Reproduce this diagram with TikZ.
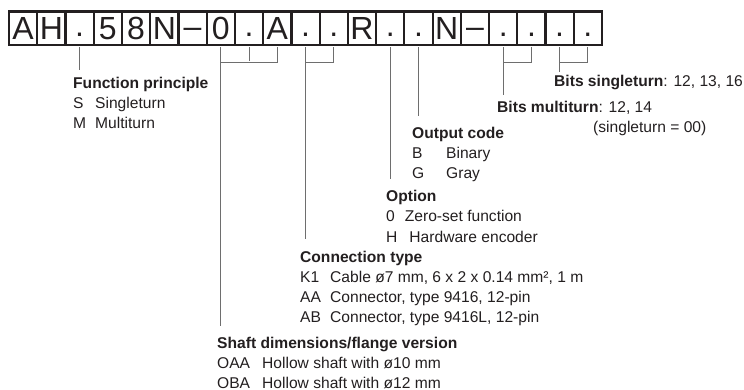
\documentclass[tikz,border=0pt]{standalone}
\usepackage{fontspec}
\setmainfont{Liberation Sans}
\definecolor{Ink}{HTML}{231F20}
\definecolor{Lead}{HTML}{6E6E6E}
\newcommand{\dt}{\raisebox{3pt}{.}}
\newcommand{\ds}{\raisebox{2pt}{–}}

\begin{document}
\begin{tikzpicture}[x=1pt,y=-1pt,every node/.style={text=Ink,inner sep=0pt},
  cell/.style={draw=Ink,line width=2.2pt,minimum width=28.24pt,minimum height=33.5pt,
    text height=23pt,text depth=0pt,font=\fontsize{32}{32}\selectfont},
  lead/.style={Lead,line width=0.9pt},
  tick/.style={lead,shorten <=1.1pt,shorten >=1.1pt},
  blk/.style={anchor=base west,font=\fontsize{15.6}{20}\selectfont}]
\useasboundingbox (0,0) rectangle (744,390);
% type code boxes
\foreach \c [count=\i] in {A,H,\dt,5,8,N,\ds,0,\dt,A,\dt,\dt,R,\dt,\dt,N,\ds,\dt,\dt,\dt,\dt}
  \node[cell] (b\i) at ({9+28.24*(\i-0.5)},28.25) {\c};
% texts
\node[blk] (fp) at (73,89) {\begin{tabular}[t]{@{}p{22pt}@{}l@{}}\multicolumn{2}{@{}l@{}}{\textbf{Function principle}}\\S&Singleturn\\M&Multiturn\end{tabular}};
\node[blk] (bs) at (554,87) {\textbf{Bits singleturn}: 12, 13, 16};
\node[blk] (bm) at (497,113) {\begin{tabular}[t]{@{}l@{}}\textbf{Bits multiturn}: 12, 14\\\hspace*{96pt}(singleturn = 00)\end{tabular}};
\node[blk] (oc) at (412,139) {\begin{tabular}[t]{@{}p{34pt}@{}l@{}}\multicolumn{2}{@{}l@{}}{\textbf{Output code}}\\B&Binary\\G&Gray\end{tabular}};
\node[blk] (op) at (386,202) {\begin{tabular}[t]{@{}l@{}}\textbf{Option}\\0\hspace{10pt}Zero-set function\\H\hspace{12pt}Hardware encoder\end{tabular}};
\node[blk] (ct) at (300,262) {\begin{tabular}[t]{@{}p{30pt}@{}l@{}}\multicolumn{2}{@{}l@{}}{\textbf{Connection type}}\\K1&Cable ø7 mm, 6 x 2 x 0.14 mm², 1 m\\AA&Connector, type 9416, 12-pin\\AB&Connector, type 9416L, 12-pin\end{tabular}};
\node[blk] (sh) at (217,348) {\begin{tabular}[t]{@{}p{45pt}@{}l@{}}\multicolumn{2}{@{}l@{}}{\textbf{Shaft dimensions/flange version}}\\OAA&Hollow shaft with ø10 mm\\OBA&Hollow shaft with ø12 mm\end{tabular}};
% leader lines
\coordinate (bar) at (0,62);
\coordinate (fpEnd) at (0,71);
\coordinate (shEnd) at (0,326);
\coordinate (ctEnd) at (0,239);
\coordinate (opEnd) at (0,180);
\coordinate (ocEnd) at (0,117);
\coordinate (bmEnd) at (0,95);
\coordinate (bsEnd) at (0,72);
\foreach \a/\b in {8/10,11/12,18/19,20/21}
  \draw[tick] (b\a.south) -- (b\a.south |- bar) -- (b\b.south |- bar) -- (b\b.south);
\draw[tick] (b9.south) -- (b9.south |- bar);
\draw[tick] (b3.south) -- (b3.south |- fpEnd);
\draw[tick] (b14.south) -- (b14.south |- opEnd);
\draw[tick] (b15.south) -- (b15.south |- ocEnd);
\draw[lead] (b8.south |- bar) -- (b8.south |- shEnd);
\draw[lead] (b11.south |- bar) -- (b11.south |- ctEnd);
\draw[lead] (b18.south |- bar) -- (b18.south |- bmEnd);
\draw[lead] (b20.south |- bar) -- (b20.south |- bsEnd);
\end{tikzpicture}
\end{document}
